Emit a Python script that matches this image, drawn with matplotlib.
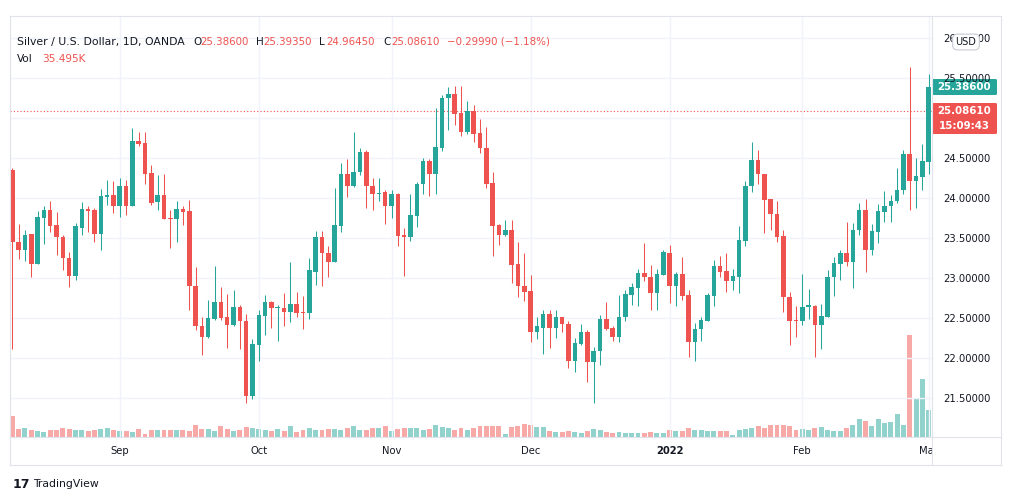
import numpy as np
import matplotlib.pyplot as plt
from matplotlib.patches import FancyBboxPatch
from matplotlib.lines import Line2D

W, H = 1012, 501

# daily OHLC, silver / USD (index 0 = 9 Aug 2021, last = today, partly hidden)
opens = [24.35, 23.45, 23.35, 23.55, 23.18, 23.76, 23.85, 23.67, 23.52, 23.25,
         23.03, 23.63, 23.87, 23.85, 23.55, 24.02, 24.04, 23.90, 24.15, 23.91,
         24.72, 24.69, 24.32, 23.95, 24.04, 23.76, 23.74, 23.87, 23.84, 22.90,
         22.40, 22.26, 22.49, 22.70, 22.52, 22.42, 22.64, 22.47, 21.53, 22.17,
         22.53, 22.70, 22.63, 22.63, 22.58, 22.68, 22.58, 22.56, 23.08, 23.52,
         23.32, 23.20, 23.66, 24.30, 24.15, 24.33, 24.58, 24.15, 24.06, 24.08,
         23.90, 24.06, 23.54, 23.52, 23.78, 24.18, 24.47, 24.31, 24.63, 25.26,
         25.31, 25.07, 24.83, 25.09, 24.82, 24.63, 24.19, 23.67, 23.54, 23.60,
         23.18, 22.90, 22.84, 22.33, 22.38, 22.55, 22.38, 22.51, 22.43, 21.96,
         22.18, 22.33, 21.95, 22.09, 22.49, 22.38, 22.26, 22.51, 22.79, 22.88,
         23.06, 23.02, 22.82, 23.04, 23.32, 22.90, 23.05, 22.79, 22.20, 22.36,
         22.47, 22.78, 23.15, 23.09, 22.96, 23.02, 23.47, 24.15, 24.48, 24.30,
         23.99, 23.81, 23.53, 22.76, 22.48, 22.46, 22.64, 22.65, 22.42, 22.52,
         23.01, 23.18, 23.31, 23.20, 23.60, 23.85, 23.35, 23.58, 23.83, 23.90,
         23.97, 24.10, 24.56, 24.22, 24.27, 24.46, 25.386]
highs = [24.38, 23.68, 23.60, 23.55, 23.84, 23.90, 23.97, 23.83, 23.54, 23.33,
         23.69, 23.95, 23.90, 23.88, 24.12, 24.23, 24.22, 24.26, 24.23, 24.88,
         24.83, 24.83, 24.42, 24.29, 24.30, 23.86, 23.97, 23.90, 23.98, 23.14,
         22.52, 22.73, 23.15, 22.89, 22.80, 22.85, 22.67, 22.55, 22.24, 22.60,
         22.79, 22.71, 22.67, 22.81, 23.20, 22.83, 22.78, 23.25, 23.59, 23.59,
         23.40, 24.13, 24.44, 24.49, 24.83, 24.63, 24.60, 24.25, 24.26, 24.10,
         24.10, 24.07, 23.63, 24.05, 24.20, 24.51, 24.49, 25.13, 25.29, 25.39,
         25.41, 25.40, 25.22, 25.17, 24.99, 24.89, 24.33, 23.68, 23.73, 23.73,
         23.45, 23.31, 23.04, 22.51, 22.60, 22.60, 22.60, 22.52, 22.47, 22.25,
         22.43, 22.35, 22.14, 22.54, 22.70, 22.40, 22.79, 22.85, 22.94, 23.12,
         23.44, 23.17, 23.11, 23.35, 23.42, 23.08, 23.27, 22.85, 22.44, 22.52,
         22.82, 23.23, 23.28, 23.32, 23.11, 23.65, 24.22, 24.71, 24.60, 24.31,
         23.99, 23.97, 23.60, 22.83, 22.65, 23.05, 22.86, 22.67, 22.68, 23.10,
         23.26, 23.35, 23.71, 23.69, 23.94, 23.99, 23.68, 23.93, 24.09, 24.04,
         24.38, 24.60, 25.64, 24.50, 24.68, 25.55, 25.3935]
lows = [22.11, 23.24, 23.22, 23.02, 23.18, 23.43, 23.58, 23.29, 23.10, 22.89,
        22.98, 23.54, 23.58, 23.45, 23.35, 23.92, 23.82, 23.77, 23.79, 23.90,
        24.65, 24.18, 23.92, 23.85, 23.74, 23.38, 23.45, 23.67, 22.60, 22.35,
        22.04, 22.25, 22.48, 22.48, 22.13, 22.40, 22.11, 21.44, 21.49, 21.96,
        22.29, 22.38, 22.22, 22.40, 22.45, 22.51, 22.36, 22.49, 22.92, 22.90,
        23.02, 23.20, 23.58, 24.02, 24.14, 24.29, 23.88, 23.85, 23.97, 23.68,
        23.76, 23.40, 23.03, 23.46, 23.64, 24.06, 24.03, 24.05, 24.59, 24.85,
        24.92, 24.78, 24.81, 24.70, 24.57, 24.13, 23.28, 23.41, 23.53, 22.94,
        22.76, 22.71, 22.20, 22.24, 22.05, 22.13, 22.25, 22.33, 21.88, 21.83,
        22.16, 21.70, 21.44, 21.92, 22.35, 22.21, 22.20, 22.46, 22.67, 22.65,
        22.97, 22.60, 22.60, 23.04, 22.69, 22.65, 22.73, 22.02, 21.96, 22.21,
        22.46, 22.65, 23.01, 22.83, 22.85, 22.82, 23.40, 24.08, 24.18, 23.57,
        23.60, 23.45, 22.58, 22.16, 22.26, 22.42, 22.49, 22.02, 22.11, 22.51,
        22.78, 22.98, 23.15, 22.88, 23.54, 23.08, 23.29, 23.44, 23.70, 23.71,
        23.94, 24.05, 23.85, 23.88, 24.10, 24.30, 24.9645]
closes = [23.45, 23.35, 23.54, 23.18, 23.77, 23.85, 23.66, 23.51, 23.25, 23.03,
          23.65, 23.87, 23.84, 23.55, 24.03, 24.04, 23.90, 24.15, 23.91, 24.72,
          24.68, 24.31, 23.94, 24.04, 23.74, 23.74, 23.87, 23.83, 22.90, 22.40,
          22.26, 22.50, 22.70, 22.50, 22.42, 22.64, 22.46, 21.53, 22.18, 22.54,
          22.70, 22.63, 22.64, 22.58, 22.68, 22.57, 22.56, 23.10, 23.52, 23.31,
          23.20, 23.67, 24.30, 24.15, 24.33, 24.58, 24.15, 24.06, 24.07, 23.90,
          24.05, 23.53, 23.52, 23.79, 24.18, 24.47, 24.31, 24.64, 25.26, 25.31,
          25.06, 24.83, 25.09, 24.81, 24.63, 24.18, 23.66, 23.54, 23.60, 23.17,
          22.90, 22.83, 22.33, 22.40, 22.55, 22.38, 22.51, 22.43, 21.96, 22.19,
          22.33, 21.95, 22.09, 22.49, 22.37, 22.26, 22.51, 22.80, 22.89, 23.06,
          23.01, 22.82, 23.05, 23.33, 22.90, 23.05, 22.78, 22.20, 22.36, 22.48,
          22.79, 23.15, 23.08, 22.96, 23.03, 23.48, 24.15, 24.48, 24.30, 23.98,
          23.80, 23.52, 22.76, 22.47, 22.46, 22.64, 22.66, 22.42, 22.53, 23.01,
          23.19, 23.31, 23.20, 23.60, 23.85, 23.35, 23.59, 23.84, 23.90, 23.97,
          24.10, 24.56, 24.22, 24.28, 24.47, 25.386, 25.0861]
# volume, thousands
volumes = [72, 28, 30, 26, 22, 18, 26, 26, 32, 28, 26, 23, 22, 26, 29, 33, 23, 22, 22, 18,
           28, 12, 26, 26, 26, 23, 26, 26, 22, 43, 29, 28, 22, 40, 28, 22, 26, 35, 32, 28,
           26, 22, 28, 22, 37, 19, 26, 32, 26, 26, 28, 28, 26, 32, 40, 26, 26, 30, 32, 37,
           22, 28, 32, 30, 32, 26, 28, 42, 34, 30, 26, 32, 26, 32, 37, 37, 40, 37, 12, 35,
           37, 46, 42, 35, 35, 22, 16, 19, 22, 16, 14, 22, 28, 26, 16, 14, 16, 14, 14, 14,
           14, 19, 14, 14, 26, 22, 22, 32, 26, 26, 22, 22, 22, 22, 8, 26, 28, 32, 37, 32,
           42, 43, 43, 37, 26, 28, 26, 32, 35, 26, 20, 20, 32, 43, 63, 57, 40, 63, 49, 51,
           82, 43, 358, 137, 204, 96, 35.495]

month_labels = ["Sep", "Oct", "Nov", "Dec", "2022", "Feb", "Mar"]
month_pos = [17, 39, 60, 82, 104, 125, 145]
price_ticks = [21.5, 22.0, 22.5, 23.0, 23.5, 24.0, 24.5, 25.0, 25.5, 26.0]

UP, DOWN = "#26a69a", "#ef5350"
UP_VOL, DOWN_VOL = "#92d2cc", "#f7a9a7"
TXT, BORDER, GRID = "#131722", "#e0e3eb", "#f0f3fa"
plt.rcParams["font.family"] = "DejaVu Sans"


def fx(x):
    return x / W


def fy(y):
    return 1 - y / H


fig = plt.figure(figsize=(W / 100, H / 100), dpi=100)
L, R, T, B = 10, 932, 16, 437
ax = fig.add_axes([fx(L), fy(B), (R - L) / W, (B - T) / H])
vax = ax.twinx()
ax.set_zorder(vax.get_zorder() + 1)
ax.patch.set_visible(False)

o, h, l, c = map(np.array, (opens, highs, lows, closes))
x = np.arange(len(o))
up = c >= o

vax.bar(x, volumes, width=0.78, color=np.where(up, UP_VOL, DOWN_VOL), linewidth=0)
vax.set_ylim(0, (B - T) * 3.5)
vax.axis("off")

cols = np.where(up, UP, DOWN)
ax.vlines(x, l, h, colors=cols, lw=0.75, zorder=3)
ax.bar(x, np.maximum(np.abs(c - o), 0.012), bottom=np.minimum(o, c), width=0.72,
       color=cols, linewidth=0, zorder=4)
ax.axhline(closes[-1], color=DOWN, lw=0.8, ls=(0, (1, 2)), zorder=2)

ax.set_xlim(-0.364, 145.52)
ax.set_ylim(21.016, 26.279)
ax.set_xticks(month_pos)
ax.set_yticks(price_ticks)
ax.yaxis.tick_right()
ax.tick_params(length=0, labelbottom=False, labelsize=7.2, labelcolor=TXT, pad=8)
# 25.00000 sits under the live price label, so it is not shown
ax.set_yticklabels(["" if p == 25.0 else "%.5f" % p for p in price_ticks])
ax.grid(color=GRID, lw=1, zorder=0)
ax.set_axisbelow(True)
for s in ax.spines.values():
    s.set_visible(False)

# time axis
tax = fig.add_axes([fx(L), fy(465), (R - L) / W, 28 / H])
tax.set_xlim(ax.get_xlim())
tax.set_ylim(0, 1)
tax.axis("off")
for pos, lab in zip(month_pos, month_labels):
    tax.text(pos, 0.5, lab, ha="center", va="center", fontsize=7.2, color=TXT,
             fontweight="bold" if lab == "2022" else "normal", clip_on=True)

# frame
for x0, y0, x1, y1 in [(L, T, 1001, T), (L, 465, 1001, 465), (L, B, 1001, B),
                       (L, T, L, 465), (1001, T, 1001, 465), (R, T, R, 465)]:
    fig.add_artist(Line2D([fx(x0), fx(x1)], [fy(y0), fy(y1)], color=BORDER, lw=0.8))

# header
fig.text(fx(17), fy(42), "Silver / U.S. Dollar, 1D, OANDA", fontsize=7.8, color=TXT, va="center")
for xp, s, col in [(193, "O", TXT), (200, "25.38600", DOWN), (256, "H", TXT), (263, "25.39350", DOWN),
                   (319, "L", TXT), (326, "24.96450", DOWN), (383, "C", TXT), (391, "25.08610", DOWN),
                   (447, "\u22120.29990 (\u22121.18%)", DOWN)]:
    fig.text(fx(xp), fy(42), s, fontsize=7.4, color=col, va="center")
fig.text(fx(17), fy(59), "Vol", fontsize=7.6, color=TXT, va="center")
fig.text(fx(42), fy(59), "35.495K", fontsize=7.6, color=DOWN, va="center")

# price labels
fig.add_artist(FancyBboxPatch((fx(932), fy(95)), fx(65), 16 / H, boxstyle="round,pad=0,rounding_size=0.002",
                              fc=UP, ec="none"))
fig.text(fx(964), fy(87), "25.38600", fontsize=7.4, color="white", fontweight="bold", ha="center", va="center")
fig.add_artist(FancyBboxPatch((fx(932), fy(134)), fx(65), 31 / H, boxstyle="round,pad=0,rounding_size=0.002",
                              fc=DOWN, ec="none"))
fig.text(fx(964), fy(111), "25.08610", fontsize=7.4, color="white", fontweight="bold", ha="center", va="center")
fig.text(fx(964), fy(126), "15:09:43", fontsize=7.4, color="white", fontweight="bold", ha="center", va="center")
fig.text(fx(966), fy(42), "USD", fontsize=7, color=TXT, ha="center", va="center",
         bbox=dict(boxstyle="round,pad=0.3,rounding_size=0.5", fc="white", ec="#c9ccd4", lw=0.8))

# branding
fig.text(fx(13), fy(484), "17", fontsize=9, fontweight="heavy", color=TXT, va="center")
fig.text(fx(33), fy(484), "TradingView", fontsize=7.8, color=TXT, va="center")

fig.savefig("out.png", dpi=100, facecolor="white")
